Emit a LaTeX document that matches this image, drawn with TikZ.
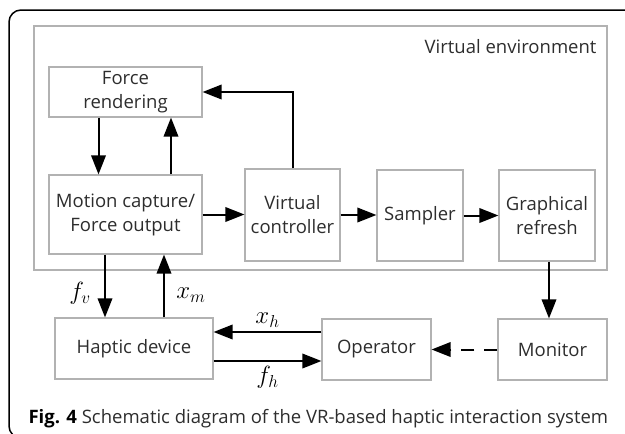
\documentclass[tikz,border=0pt]{standalone}
\usepackage{fontspec}
\setmainfont{Open Sans}
\usepackage{tikz}
\usetikzlibrary{arrows.meta,calc}
\definecolor{boxgray}{RGB}{178,178,178}
\definecolor{txt}{RGB}{45,45,45}

\begin{document}
\begin{tikzpicture}[x=1pt,y=-1pt,
  every node/.style={font=\fontsize{18.5}{24}\selectfont,text=txt},
  box/.style={draw=boxgray,line width=1.2pt,inner sep=0pt,align=center},
  arr/.style={line width=2pt,-{Triangle[length=19pt,width=14.5pt]}},
  lbl/.style={font=\fontsize{24}{24}\selectfont,text=black}]
\useasboundingbox (0,0) rectangle (625,434);
% outer panel
\draw[line width=1.5pt,rounded corners=12pt] (640,438) -- (9,438) -- (9,10) -- (640,10);
% virtual environment
\node[box,minimum width=573,minimum height=244] (venv) at (320.5,148) {};
\node[anchor=base east] (venvtxt) at (600,53) {Virtual environment};
\node[box,minimum width=153,minimum height=50] (render) at (125.5,92) {Force\\rendering};
\node[box,minimum width=153,minimum height=79] (motion) at (125.5,214.5) {Motion capture/\\Force output};
\node[box,minimum width=95,minimum height=92] (ctrl) at (292.5,215) {Virtual\\controller};
\node[box,minimum width=86,minimum height=91] (sampler) at (420,215.5) {Sampler};
\node[box,minimum width=96,minimum height=91] (graph) at (547,215.5) {Graphical\\refresh};
% outside
\node[box,minimum width=158,minimum height=61] (haptic) at (134,348.5) {Haptic device};
\node[box,minimum width=109,minimum height=61] (oper) at (376.5,349.5) {Operator};
\node[box,minimum width=109,minimum height=61] (monitor) at (552.5,349.5) {Monitor};
% connectors
\draw[arr] (ctrl.north) |- (render.east);
\draw[arr] ([xshift=-27]render.south) -- ([xshift=-27]motion.north);
\draw[arr] ([xshift=45.5]motion.north) -- ([xshift=45.5]render.south);
\draw[arr] (motion.east) -- (motion.east -| ctrl.west);
\draw[arr] (ctrl.east) -- (ctrl.east -| sampler.west);
\draw[arr] (sampler.east) -- (sampler.east -| graph.west);
\draw[arr] ([xshift=2]graph.south) -- ([xshift=2]graph.south |- monitor.north);
\draw[arr] ([xshift=-20.5]motion.south) -- node[lbl,left=10pt,pos=.62] {$f_v$} ([xshift=-20.5]motion.south |- haptic.north);
\draw[arr] ([xshift=30]haptic.north) -- node[lbl,right=8pt,pos=.35] {$x_m$} ([xshift=30]haptic.north |- motion.south);
\draw[arr] ([yshift=17.5]oper.west) -- node[lbl,above=0pt] {$x_h$} ([yshift=17.5]oper.west -| haptic.east);
\draw[arr] ([yshift=-12.5]haptic.east) -- node[lbl,below=1pt] {$f_h$} ([yshift=-12.5]haptic.east -| oper.west);
\draw[arr,dash pattern=on 13pt off 10pt] (monitor.west) -- (oper.east);
% caption
\node[anchor=base west,font=\fontsize{18.5}{20}\selectfont] (cap) at (25,423) {\textbf{\color{black}Fig. 4} Schematic diagram of the VR-based haptic interaction system};
\end{tikzpicture}
\end{document}
